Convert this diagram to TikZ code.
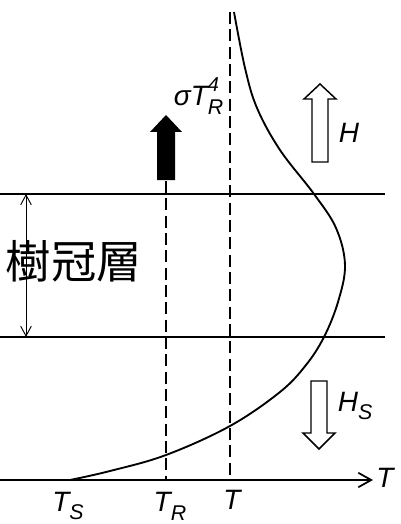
\documentclass[tikz,border=0pt]{standalone}
\usepackage{fontspec}
\setmainfont{Liberation Sans}
\newfontfamily\jpfont{Noto Sans CJK JP}
\usetikzlibrary{arrows.meta}
\newcommand{\lsub}[1]{\raisebox{-0.6ex}{\fontsize{16}{16}\selectfont #1}}
\newcommand{\lsubsup}[2]{\rlap{\raisebox{-0.6ex}{\fontsize{16}{16}\selectfont #1}}\raisebox{0.95ex}{\fontsize{15}{15}\selectfont #2}}

\begin{document}
\begin{tikzpicture}[x=0.75pt, y=-0.75pt, line width=1.3pt,
	every node/.style={font=\itshape\fontsize{21}{22}\selectfont, inner sep=0pt},
	>={Straight Barb[length=3.4mm, width=3.8mm]},
	tdash/.style={dash pattern=on 9pt off 4pt},
	flux/.style={line width=1.1pt, line join=miter}]
	\useasboundingbox (0,0) rectangle (400,524);
	% canopy layer bounds
	\draw (0,194) -- (385,194);
	\draw (0,337) -- (385,337);
	\draw[<->, line width=0.7pt, >={Straight Barb[length=2.6mm, width=2.8mm]}] (26,194) -- (26,337);
	\node[font=\jpfont\fontsize{34}{34}\selectfont] (canopy) at (74,261) {樹冠層};
	% temperature axis
	\draw[->] (0,480) -- (373,480);
	\node (tax) at (385,478) {T};
	\node (ts) at (68,506) {T\lsub{S}};
	\node (tr) at (170,506) {T\lsub{R}};
	\node (tt) at (232,500) {T};
	% reference temperatures
	\draw[tdash] (230,12) -- (230,480);
	\draw[tdash] (166,181) -- (166,480);
	% temperature profile
	\draw[line width=1.4pt] plot[smooth, tension=0.6] coordinates {(234,12) (245,68) (257,108) (280,150) (314,194) (336,228) (345,265) (338,302) (324,337) (306,365) (280,392) (230,426) (166,455) (110,471) (70,480)};
	% radiation flux
	\fill (157,180) -- (157,132) -- (150,132) -- (166,115) -- (182,132) -- (175,132) -- (175,180) -- cycle;
	\node[anchor=base west] (rad) at (173,106) {σT\lsubsup{R}{4}};
	% sensible heat fluxes
	\draw[flux] (312,162) -- (312,99) -- (304,99) -- (320,84) -- (336,99) -- (328,99) -- (328,162) -- cycle;
	\node (h) at (349,133) {H};
	\draw[flux] (311,381) -- (311,433) -- (303,433) -- (319,449) -- (335,433) -- (327,433) -- (327,381) -- cycle;
	\node[anchor=west] (hs) at (337,406) {H\lsub{S}};
\end{tikzpicture}
\end{document}
